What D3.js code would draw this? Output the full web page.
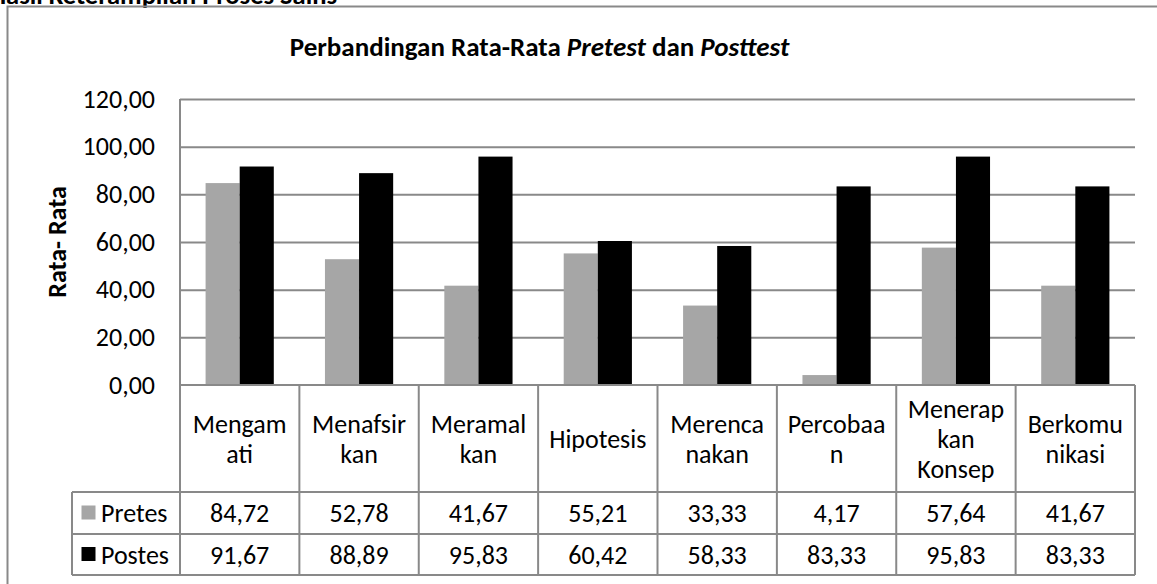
<!DOCTYPE html>
<html>
<head>
<meta charset="utf-8">
<script src="https://cdn.jsdelivr.net/npm/d3@7"></script>
<style>
  html, body { margin: 0; padding: 0; background: #fff; }
  svg { display: block; }
  text { font-family: Calibri, Carlito, Lato, sans-serif; fill: #000; }
</style>
</head>
<body>
<svg id="chart" width="1157" height="584"></svg>
<script>
// ---- data ----
const categories = ["Mengamati", "Menafsirkan", "Meramalkan", "Hipotesis", "Merencanakan", "Percobaan", "Menerapkan Konsep", "Berkomunikasi"];
const categoryLabels = [["Mengam", "ati"], ["Menafsir", "kan"], ["Meramal", "kan"], ["Hipotesis"], ["Merenca", "nakan"], ["Percobaa", "n"], ["Menerap", "kan", "Konsep"], ["Berkomu", "nikasi"]];
const seriesNames = ["Pretes", "Postes"];
const pretes = [84.72, 52.78, 41.67, 55.21, 33.33, 4.17, 57.64, 41.67];
const postes = [91.67, 88.89, 95.83, 60.42, 58.33, 83.33, 95.83, 83.33];
const yTicks = [0, 20, 40, 60, 80, 100, 120];
const chartTitle = "Perbandingan Rata-Rata ";
const yAxisTitle = "Rata- Rata";
const pageHeading = "Hasil Keterampilan Proses Sains";

const seriesValues = [pretes, postes];
const colors = ["#A6A6A6", "#000000"];
const lineColor = "#898989";
const fs = 26;

const locale = d3.formatLocale({decimal: ",", thousands: ".", grouping: [3], currency: ["", ""]});
const fmt = locale.format(".2f");

const svg = d3.select("#chart");

// cut-off page heading at the very top
svg.append("text")
  .attr("x", 337).attr("y", 4)
  .attr("text-anchor", "end")
  .attr("font-weight", "bold")
  .attr("font-size", 26.5)
  .text(pageHeading);

// outer chart frame (extends beyond the picture on right/bottom)
svg.append("rect")
  .attr("x", 7.5).attr("y", 6.5)
  .attr("width", 1200).attr("height", 700)
  .attr("fill", "none")
  .attr("stroke", lineColor)
  .attr("stroke-width", 2);

// layout
const pL = 180, pR = 1135, pT = 99, pB = 385;
const rowHeader = 492, row1 = 534, row2 = 575, legendLeft = 72;

const x = d3.scaleBand().domain(categories).range([pL, pR]).paddingInner(0).paddingOuter(0);
const xs = d3.scaleBand().domain(seriesNames).range([0, x.bandwidth()]).paddingInner(0).paddingOuter(0.75);
const y = d3.scaleLinear().domain([0, 120]).range([pB, pT]);

// title
const title = svg.append("text")
  .attr("x", (pL + pR) / 2 - 118).attr("y", 56)
  .attr("text-anchor", "middle")
  .attr("font-weight", "bold")
  .attr("font-size", 27);
title.append("tspan").text(chartTitle);
title.append("tspan").attr("font-style", "italic").text("Pretest");
title.append("tspan").text(" dan ");
title.append("tspan").attr("font-style", "italic").text("Posttest");

// y axis labels
const yAxis = svg.append("g")
  .attr("transform", `translate(${pL},0)`)
  .call(d3.axisLeft(y).tickValues(yTicks).tickSize(0).tickPadding(25).tickFormat(fmt));
yAxis.select(".domain").remove();
yAxis.selectAll("text")
  .attr("font-family", "Calibri, Carlito, Lato, sans-serif")
  .attr("font-size", fs)
  .attr("fill", "#000");

// gridlines
const grid = svg.append("g")
  .attr("transform", `translate(${pL},0)`)
  .call(d3.axisLeft(y).tickValues(yTicks.filter(v => v > 0)).tickSize(-(pR - pL)).tickFormat(""));
grid.select(".domain").remove();
grid.selectAll("line").attr("stroke", lineColor).attr("stroke-width", 2);

// y axis title
svg.append("text")
  .attr("transform", `translate(66,${(pT + pB) / 2}) rotate(-90)`)
  .attr("text-anchor", "middle")
  .attr("font-weight", "bold")
  .attr("font-size", fs)
  .text(yAxisTitle);

// bars
seriesNames.forEach((s, si) => {
  svg.append("g").selectAll("rect")
    .data(seriesValues[si])
    .join("rect")
    .attr("x", (d, i) => x(categories[i]) + xs(s))
    .attr("y", d => y(d))
    .attr("width", xs.bandwidth())
    .attr("height", d => y(0) - y(d))
    .attr("fill", colors[si]);
});

// data table lines
const tbl = svg.append("g").attr("stroke", lineColor).attr("stroke-width", 2).attr("fill", "none");
tbl.append("line").attr("x1", pL).attr("x2", pL).attr("y1", pT).attr("y2", row2);
tbl.append("line").attr("x1", pL).attr("x2", pR).attr("y1", pB).attr("y2", pB);
[rowHeader, row1, row2].forEach(yy => {
  tbl.append("line").attr("x1", legendLeft).attr("x2", pR).attr("y1", yy).attr("y2", yy);
});
tbl.append("line").attr("x1", legendLeft).attr("x2", legendLeft).attr("y1", rowHeader).attr("y2", row2);
categories.forEach(c => {
  const xx = x(c) + x.bandwidth();
  tbl.append("line").attr("x1", xx).attr("x2", xx).attr("y1", pB).attr("y2", row2);
});

// category labels
const lineH = 30;
categories.forEach((c, i) => {
  const lines = categoryLabels[i];
  const cy = (pB + rowHeader) / 2;
  const t = svg.append("text")
    .attr("text-anchor", "middle")
    .attr("font-size", fs);
  lines.forEach((ln, li) => {
    t.append("tspan")
      .attr("x", x(c) + x.bandwidth() / 2)
      .attr("y", cy + 9 + (li - (lines.length - 1) / 2) * lineH)
      .text(ln);
  });
});

// table rows
const rowYs = [[rowHeader, row1], [row1, row2]];
seriesNames.forEach((s, si) => {
  const [ya, yb] = rowYs[si];
  const cy = (ya + yb) / 2;
  svg.append("rect")
    .attr("x", 81.5).attr("y", cy - 7.5)
    .attr("width", 14).attr("height", 14)
    .attr("fill", colors[si]);
  svg.append("text")
    .attr("x", 101).attr("y", cy + 9)
    .attr("font-size", fs)
    .text(s);
  svg.append("g").selectAll("text")
    .data(seriesValues[si])
    .join("text")
    .attr("x", (d, i) => x(categories[i]) + x.bandwidth() / 2)
    .attr("y", cy + 9)
    .attr("text-anchor", "middle")
    .attr("font-size", fs)
    .text(d => fmt(d));
});
</script>
</body>
</html>
